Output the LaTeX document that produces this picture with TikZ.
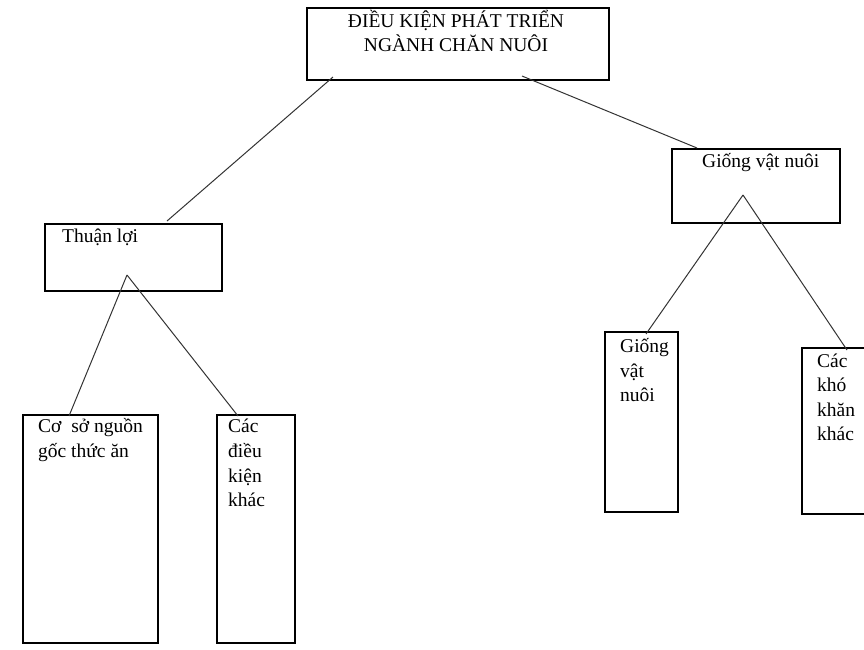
\documentclass[tikz,border=0pt]{standalone}
\usepackage{fontspec}
\setmainfont{Liberation Serif}
\begin{document}
\begin{tikzpicture}[x=1pt,y=-1pt,
  box/.style={draw=black, line width=1.3pt, inner sep=0pt, minimum width=#1},
  lbl/.style={anchor=base west, inner sep=0pt, font=\fontsize{19.5}{24.5}\selectfont},
  ctr/.style={anchor=base, inner sep=0pt, font=\fontsize{19.5}{24.5}\selectfont},
  link/.style={draw=black!80, line width=1pt}]
\useasboundingbox (0,0) rectangle (864,649);
\clip (0,0) rectangle (864,649);
% boxes
\draw[box=0pt] (307,8) rectangle (609,80);
\node[box=302pt, minimum height=72pt, draw=none] (top) at (458,44) {};
\draw[box=0pt] (45,224) rectangle (222,291);
\node[minimum width=177pt, minimum height=67pt, inner sep=0pt] (thuan) at (133.5,257.5) {};
\draw[box=0pt] (672,149) rectangle (840,223);
\node[minimum width=168pt, minimum height=74pt, inner sep=0pt] (giong) at (756,186) {};
\draw[box=0pt] (23,415) rectangle (158,643);
\node[minimum width=135pt, minimum height=228pt, inner sep=0pt] (coso) at (90.5,529) {};
\draw[box=0pt] (217,415) rectangle (295,643);
\node[minimum width=78pt, minimum height=228pt, inner sep=0pt] (dieukien) at (256,529) {};
\draw[box=0pt] (605,332) rectangle (678,512);
\node[minimum width=73pt, minimum height=180pt, inner sep=0pt] (giong2) at (641.5,422) {};
\draw[box=0pt] (802,348) rectangle (880,514);
\node[minimum width=78pt, minimum height=166pt, inner sep=0pt] (khokhan) at (841,431) {};
% texts
\node[ctr] (t1) at (456,27) {ĐIỀU KIỆN PHÁT TRIỂN};
\node[ctr] (t2) at (456,51) {NGÀNH CHĂN NUÔI};
\node[lbl] (t3) at (62,242) {Thuận lợi};
\node[lbl] (t4) at (702,167) {Giống vật nuôi};
\node[lbl] (t5) at (38,432) {Cơ\hspace{5pt} sở nguồn};
\node[lbl] (t6) at (38,457) {gốc thức ăn};
\node[lbl] (t7) at (228,432) {Các};
\node[lbl] (t8) at (228,457) {điều};
\node[lbl] (t9) at (228,482) {kiện};
\node[lbl] (t10) at (228,506) {khác};
\node[lbl] (t11) at (620,352) {Giống};
\node[lbl] (t12) at (620,377) {vật};
\node[lbl] (t13) at (620,401) {nuôi};
\node[lbl] (t14) at (817,367) {Các};
\node[lbl] (t15) at (817,391) {khó};
\node[lbl] (t16) at (817,416) {khăn};
\node[lbl] (t17) at (817,440) {khác};
% connector endpoints
\coordinate (a1) at (333,77);
\coordinate (a2) at (167,221);
\coordinate (b1) at (522,76);
\coordinate (b2) at (697,148);
\coordinate (apexL) at (127,275);
\coordinate (c1) at (69,416);
\coordinate (c2) at (238,416);
\coordinate (apexR) at (743,195);
\coordinate (d1) at (646,334);
\coordinate (d2) at (847,350);
% connectors
\draw[link] (a1) -- (a2);
\draw[link] (b1) -- (b2);
\draw[link] (apexL) -- (c1);
\draw[link] (apexL) -- (c2);
\draw[link] (apexR) -- (d1);
\draw[link] (apexR) -- (d2);
\end{tikzpicture}
\end{document}
